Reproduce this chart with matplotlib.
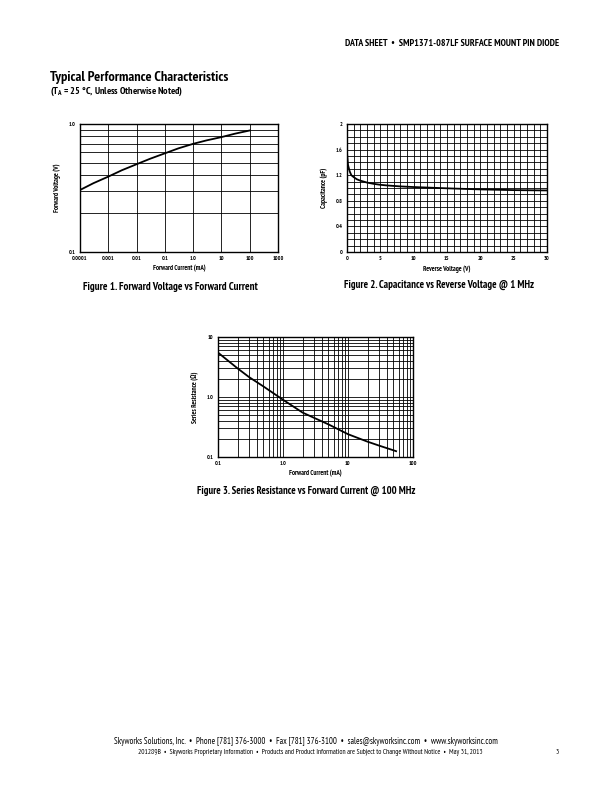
import matplotlib
matplotlib.use("Agg")
import matplotlib.pyplot as plt
from matplotlib.ticker import FixedLocator, MultipleLocator, LogLocator, NullFormatter

plt.rcParams['font.family'] = ['PT Sans Narrow', 'Roboto Condensed', 'Archivo Narrow',
                               'Liberation Sans', 'DejaVu Sans']

# Figure 1: forward voltage vs forward current
fv_current = [0.0001, 0.0003, 0.001, 0.003, 0.01, 0.03, 0.1, 0.3, 1, 3, 10, 30, 100]
fv_voltage = [0.305, 0.345, 0.388, 0.435, 0.485, 0.535, 0.59, 0.645, 0.70, 0.745, 0.79, 0.84, 0.89]
fv_xticks = [0.0001, 0.001, 0.01, 0.1, 1, 10, 100, 1000]
fv_xlabels = ["0.0001", "0.001", "0.01", "0.1", "1.0", "10", "100", "1000"]

# Figure 2: capacitance vs reverse voltage
cap_voltage = [0, 0.15, 0.4, 0.65, 1, 1.5, 2, 3, 4, 5, 6, 8, 10, 15, 20, 25, 30]
cap_pf = [1.555, 1.36, 1.26, 1.20, 1.17, 1.135, 1.115, 1.085, 1.065, 1.05, 1.04,
          1.025, 1.015, 0.995, 0.978, 0.967, 0.962]
cap_xticks = [0, 5, 10, 15, 20, 25, 30]
cap_yticks = [0, 0.4, 0.8, 1.2, 1.6, 2]
cap_ylabels = ["0", "0.4", "0.8", "1.2", "1.6", "2"]

# Figure 3: series resistance vs forward current
rs_current = [0.1, 0.2, 0.3, 0.5, 1, 2, 3, 5, 10, 20, 30, 55]
rs_ohm = [5.5, 3.0, 2.15, 1.5, 0.9, 0.55, 0.45, 0.35, 0.24, 0.18, 0.155, 0.125]

fig = plt.figure(figsize=(6.12, 7.92), dpi=100)
W, H = 612.0, 792.0


def box(x0, y0, x1, y1):
    return [x0 / W, 1 - y1 / H, (x1 - x0) / W, (y1 - y0) / H]


lab_kw = dict(fontsize=5.0, fontweight="bold")
grid_kw = dict(color="black", lw=0.6)


def frame(ax):
    for s in ax.spines.values():
        s.set_linewidth(1.0)
    ax.tick_params(which="both", length=0, pad=3)
    for t in ax.get_xticklabels() + ax.get_yticklabels():
        t.set_fontsize(4.2)
        t.set_fontweight("bold")


# --- Figure 1
ax1 = fig.add_axes(box(80, 124, 278, 252))
ax1.set_xscale("log")
ax1.set_yscale("log")
ax1.set_xlim(0.0001, 1000)
ax1.set_ylim(0.1, 1.0)
ax1.plot(fv_current, fv_voltage, color="black", lw=1.3)
ax1.xaxis.set_major_locator(FixedLocator(fv_xticks))
ax1.set_xticklabels(fv_xlabels)
ax1.xaxis.set_minor_locator(FixedLocator([]))
ax1.yaxis.set_major_locator(FixedLocator([0.1, 1.0]))
ax1.set_yticklabels(["0.1", "1.0"])
ax1.yaxis.set_minor_locator(LogLocator(base=10, subs=range(2, 10)))
ax1.yaxis.set_minor_formatter(NullFormatter())
ax1.grid(True, which="major", axis="x", **grid_kw)
ax1.grid(True, which="both", axis="y", **grid_kw)
ax1.set_xlabel("Forward Current (mA)", labelpad=3, **lab_kw)
ax1.set_ylabel("Forward Voltage (V)", labelpad=6, **lab_kw)
frame(ax1)

# --- Figure 2
ax2 = fig.add_axes(box(347, 124, 547, 252))
ax2.set_xlim(0, 30)
ax2.set_ylim(0, 2)
ax2.plot(cap_voltage, cap_pf, color="black", lw=1.3)
ax2.set_xticks(cap_xticks)
ax2.set_yticks(cap_yticks)
ax2.set_yticklabels(cap_ylabels)
ax2.xaxis.set_minor_locator(MultipleLocator(1))
ax2.yaxis.set_minor_locator(MultipleLocator(0.1))
ax2.grid(True, which="both", **grid_kw)
ax2.set_xlabel("Reverse Voltage (V)", labelpad=3, **lab_kw)
ax2.set_ylabel("Capacitance (pF)", labelpad=6, **lab_kw)
frame(ax2)

# --- Figure 3
ax3 = fig.add_axes(box(218, 337, 413, 457))
ax3.set_xscale("log")
ax3.set_yscale("log")
ax3.set_xlim(0.1, 100)
ax3.set_ylim(0.1, 10)
ax3.plot(rs_current, rs_ohm, color="black", lw=1.3)
ax3.xaxis.set_major_locator(FixedLocator([0.1, 1, 10, 100]))
ax3.set_xticklabels(["0.1", "1.0", "10", "100"])
ax3.yaxis.set_major_locator(FixedLocator([0.1, 1, 10]))
ax3.set_yticklabels(["0.1", "1.0", "10"])
for a in (ax3.xaxis, ax3.yaxis):
    a.set_minor_locator(LogLocator(base=10, subs=range(2, 10)))
    a.set_minor_formatter(NullFormatter())
ax3.grid(True, which="both", **grid_kw)
ax3.set_xlabel("Forward Current (mA)", labelpad=3, **lab_kw)
ax3.set_ylabel("Series Resistance (Ω)", labelpad=6, **lab_kw)
frame(ax3)

# --- page text
fig.text(559 / W, 1 - 44 / H, "DATA SHEET  •  SMP1371-087LF SURFACE MOUNT PIN DIODE",
         ha="right", va="center", fontsize=7.0, fontweight="bold")
fig.text(50 / W, 1 - 77 / H, "Typical Performance Characteristics",
         ha="left", va="center", fontsize=10.3, fontweight="bold")
fig.text(50 / W, 1 - 92 / H, r"(T$_\mathregular{A}$ = 25 °C, Unless Otherwise Noted)",
         ha="left", va="center", fontsize=7.2, fontweight="bold")
fig.text(170 / W, 1 - 287 / H, "Figure 1. Forward Voltage vs Forward Current",
         ha="center", va="center", fontsize=7.8, fontweight="bold")
fig.text(439 / W, 1 - 285 / H, "Figure 2. Capacitance vs Reverse Voltage @ 1 MHz",
         ha="center", va="center", fontsize=7.7, fontweight="bold")
fig.text(306 / W, 1 - 491 / H, "Figure 3. Series Resistance vs Forward Current @ 100 MHz",
         ha="center", va="center", fontsize=7.6, fontweight="bold")
fig.text(306 / W, 1 - 741 / H,
         "Skyworks Solutions, Inc.  •  Phone [781] 376-3000  •  Fax [781] 376-3100  •  "
         "sales@skyworksinc.com  •  www.skyworksinc.com",
         ha="center", va="center", fontsize=6.35)
fig.text(310 / W, 1 - 752 / H,
         "201289B  •  Skyworks Proprietary Information  •  Products and Product Information "
         "are Subject to Change Without Notice  •  May 31, 2013",
         ha="center", va="center", fontsize=5.2)
fig.text(557 / W, 1 - 752 / H, "3", ha="center", va="center", fontsize=5.2)

fig.savefig("out.png", dpi=100)
